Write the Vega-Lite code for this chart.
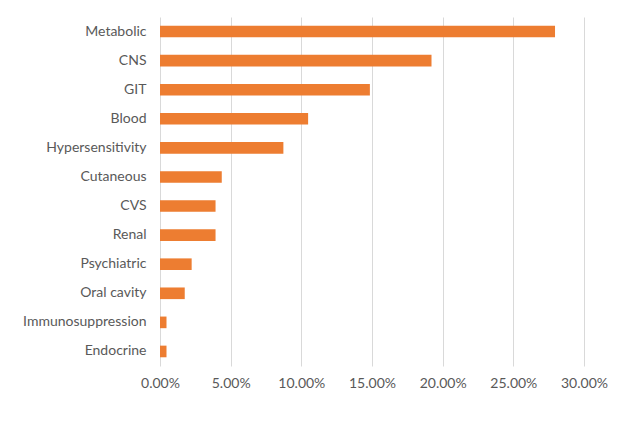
{
  "$schema": "https://vega.github.io/schema/vega-lite/v6.json",
  "autosize": "none",
  "width": 424,
  "height": 349,
  "padding": {"left": 160, "top": 17, "right": 41, "bottom": 57},
  "background": "white",
  "data": {
    "values": [
      {"category": "Metabolic", "value": 0.2795},
      {"category": "CNS", "value": 0.1921},
      {"category": "GIT", "value": 0.1485},
      {"category": "Blood", "value": 0.1048},
      {"category": "Hypersensitivity", "value": 0.0873},
      {"category": "Cutaneous", "value": 0.0437},
      {"category": "CVS", "value": 0.0393},
      {"category": "Renal", "value": 0.0393},
      {"category": "Psychiatric", "value": 0.0224},
      {"category": "Oral cavity", "value": 0.0175},
      {"category": "Immunosuppression", "value": 0.0046},
      {"category": "Endocrine", "value": 0.0046}
    ]
  },
  "mark": {"type": "bar", "color": "#ED7D31"},
  "encoding": {
    "y": {
      "field": "category",
      "type": "nominal",
      "sort": null,
      "scale": {"paddingInner": 0.6, "paddingOuter": 0.3},
      "axis": {
        "title": null,
        "domain": false,
        "ticks": false,
        "labelPadding": 14,
        "labelFont": "Lato",
        "labelFontSize": 14,
        "labelColor": "#595959"
      }
    },
    "x": {
      "field": "value",
      "type": "quantitative",
      "scale": {"domain": [0, 0.3], "nice": false},
      "axis": {
        "title": null,
        "values": [0, 0.05, 0.1, 0.15, 0.2, 0.25, 0.3],
        "format": ".2%",
        "domain": false,
        "ticks": false,
        "labelFlush": false,
        "labelOverlap": false,
        "labelPadding": 10,
        "labelFont": "Lato",
        "labelFontSize": 14,
        "labelColor": "#595959",
        "gridColor": "#D9D9D9",
        "gridWidth": 1
      }
    }
  },
  "config": {"view": {"stroke": null}}
}
